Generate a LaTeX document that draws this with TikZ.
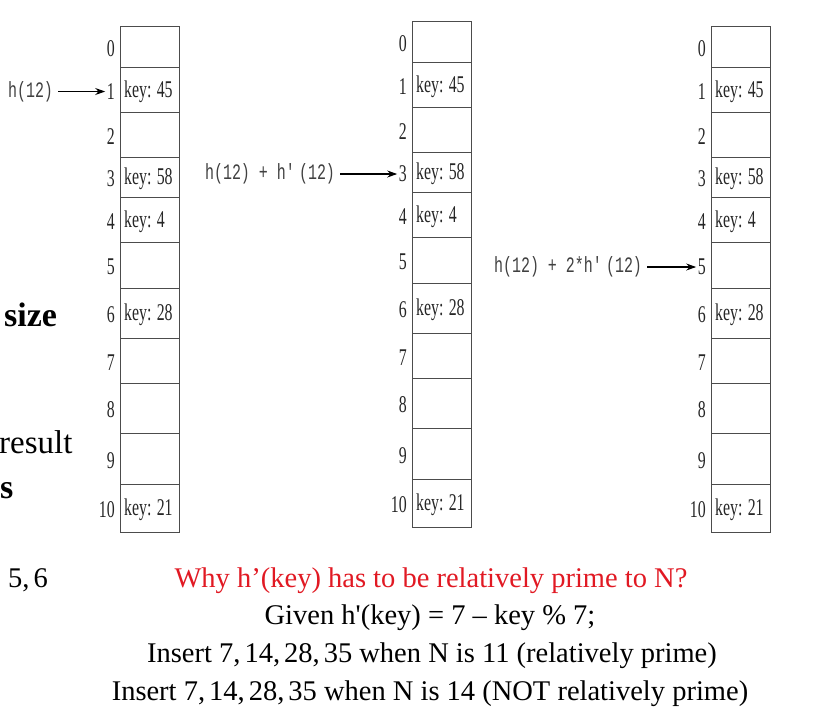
\documentclass[tikz,border=0pt]{standalone}
\usepackage{fontspec}
\setmainfont{Liberation Serif}
\newfontfamily\tabfont[FakeStretch=0.66]{Liberation Serif}
\newfontfamily\codefont[FakeStretch=0.68]{Liberation Mono}
\usetikzlibrary{arrows.meta,positioning}
\definecolor{qred}{RGB}{225,25,35}
\tikzset{
  cell/.style={draw=black!70, line width=1pt, minimum width=59pt, inner sep=0pt, outer sep=0pt},
  idx/.style={inner sep=1.5pt, text=black!85, font=\tabfont\fontsize{24}{26}\selectfont},
  keytxt/.style={inner sep=4pt, text=black!85, font=\tabfont\fontsize{24}{26}\selectfont},
  lbl/.style={inner sep=2pt, text=black!75, font=\codefont\fontsize{22}{24}\selectfont},
  ptr/.style={line width=1.1pt, -{Stealth[length=10pt,width=7pt]}, shorten <=3pt},
  slide/.style={inner sep=0pt, font=\fontsize{28.5}{34}\selectfont}
}
\newcommand{\cm}{,\kern4pt}
\begin{document}
\begin{tikzpicture}[x=1pt,y=-1pt]
\useasboundingbox (0,0) rectangle (825,721);
% three copies of the table, the middle one a bit higher
\foreach \t/\x/\dy in {1/120/0, 2/412/5, 3/711/0} {
  \foreach \r/\a/\b in {0/26/67, 1/67/112, 2/112/157, 3/157/197, 4/197/242, 5/242/288,
                        6/288/338, 7/338/383, 8/383/433, 9/433/484, 10/484/532} {
    \node[cell, minimum height={(\b-\a)*1pt}, anchor=north west] (c\t-\r) at (\x,{\a-\dy}) {};
    \node[idx, anchor=east] (i\t-\r) at ([xshift=-3.5pt,yshift=-2pt]c\t-\r.west) {\r};
  }
  \foreach \r/\k in {1/45, 3/58, 4/4, 6/28, 10/21}
    \node[keytxt, anchor=west] (k\t-\r) at ([yshift=-2pt]c\t-\r.west) {key: \k};
}
% probes
\node[lbl, left=50pt of i1-1] (h1) {h(12)};
\node[lbl, left=60pt of i2-3] (h2) {h(12) + h\textquotesingle(12)};
\node[lbl, left=52pt of i3-5] (h3) {h(12) + 2*h\textquotesingle(12)};
\draw[ptr] (h1) -- (i1-1);
\draw[ptr] (h2) -- (i2-3);
\draw[ptr] (h3) -- (i3-5);
% slide text cut at the left edge
\node[slide, anchor=base west, font=\bfseries\fontsize{34}{40}\selectfont] (frag1) at (4,326) {size};
\node[slide, anchor=base west, font=\fontsize{33}{40}\selectfont] (frag2) at (-1,453) {result};
\node[slide, anchor=base west, font=\bfseries\fontsize{34}{40}\selectfont] (frag3) at (0,498) {s};
\node[slide, anchor=base west] (frag4) at (8,587) {5\cm6};
% question below
\node[slide, anchor=base, text=qred] (why) at (431,587) {Why h’(key) has to be relatively prime to N?};
\node[slide, anchor=base] (given) at (430,624) {Given h\textquotesingle(key) = 7 -- key \% 7;};
\node[slide, anchor=base] (ins1) at (432,662) {Insert 7\cm14\cm28\cm35 when N is 11 (relatively prime)};
\node[slide, anchor=base] (ins2) at (430,700) {Insert 7\cm14\cm28\cm35 when N is 14 (NOT relatively prime)};
\end{tikzpicture}
\end{document}
